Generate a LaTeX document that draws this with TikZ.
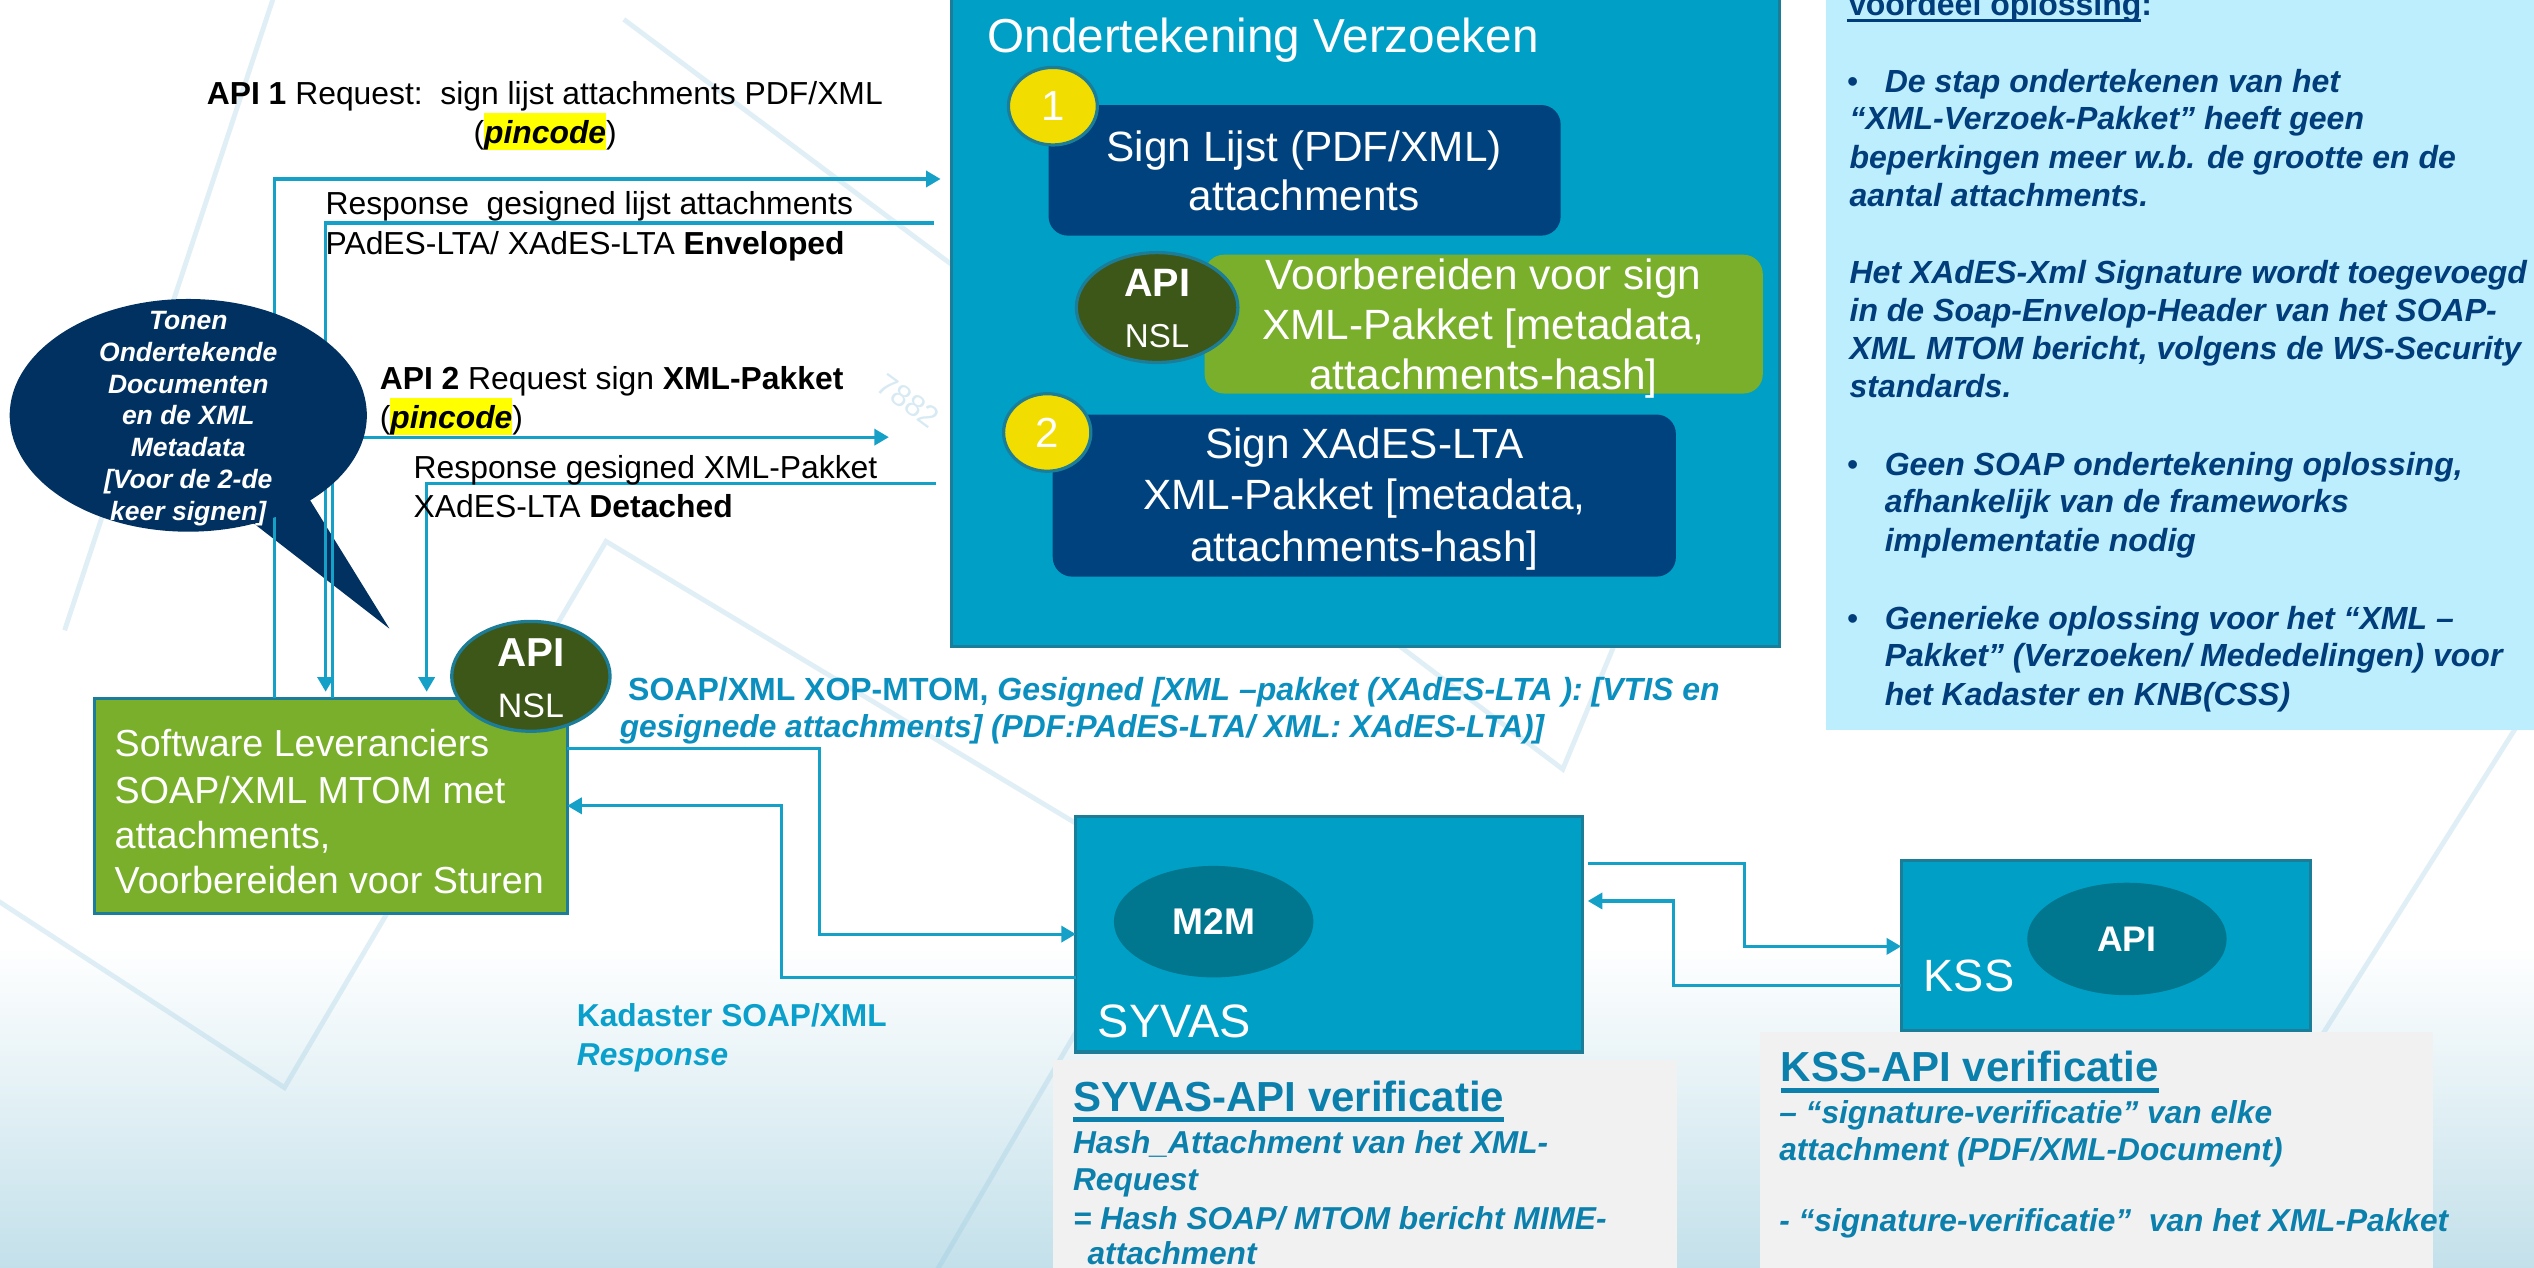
\documentclass[tikz,border=0pt]{standalone}
\usepackage{fontspec}
\setmainfont{Liberation Sans}
\usetikzlibrary{arrows.meta,shapes.geometric}

\definecolor{cTeal}{HTML}{00A0C6}
\definecolor{cTealEdge}{HTML}{1B7D97}
\definecolor{cInner}{HTML}{00768F}
\definecolor{cNavy}{HTML}{00427E}
\definecolor{cYellow}{HTML}{F2DD00}
\definecolor{cOlive}{HTML}{3D5719}
\definecolor{cGreen}{HTML}{79AF2A}
\definecolor{cBubble}{HTML}{003161}
\definecolor{cPanel}{HTML}{BDEEFD}
\definecolor{cPanelText}{HTML}{003D7A}
\definecolor{cLine}{HTML}{15A0C8}
\definecolor{cLabel}{HTML}{0B8FBE}
\definecolor{cKad}{HTML}{0AA0CB}
\definecolor{cVer}{HTML}{0B80AC}
\definecolor{cGray}{HTML}{F1F1F1}
\definecolor{cBgBot}{HTML}{C3E0EA}
\definecolor{cHi}{HTML}{FFFF00}
\definecolor{cFaint}{HTML}{8EC4DD}

\newcommand\fsz[2]{\fontsize{#1}{#2}\selectfont}
\newcommand\hlpin[1]{{\setlength{\fboxsep}{0pt}\colorbox{cHi}{\rule[-4pt]{0pt}{23pt}\textbf{\textit{#1}}}}}

\begin{document}
\begin{tikzpicture}[x=1pt,y=-1pt,
  conn/.style={draw=cLine,line width=1.9pt},
  tip/.style={-{Triangle[length=9pt,width=10pt]}},
  bgline/.style={draw=cFaint,line width=3pt,opacity=0.27},
  txt/.style={inner sep=0pt,outer sep=0pt,anchor=base west},
  ctxt/.style={inner sep=0pt,outer sep=0pt,anchor=base},
  blk/.style={txt,font=\fsz{19.7}{23.6}},
  boxtxt/.style={ctxt,text=white,font=\fsz{26.2}{31}},
  ptx/.style={txt,text=cPanelText,font=\fsz{19.8}{23.6}\bfseries\itshape},
  pbul/.style={txt,text=cPanelText,font=\fsz{19.8}{23.6}},
  vtx/.style={txt,text=cVer,font=\fsz{19.6}{23.6}\bfseries\itshape},
  vhead/.style={txt,text=cVer,font=\fsz{26}{30}\bfseries},
  box/.style={rectangle,anchor=north west,inner sep=0pt,outer sep=0pt},
  rbox/.style={box,rounded corners=12pt},
  oval/.style={ellipse,inner sep=0pt,outer sep=0pt},
  dot/.style={oval,fill=cYellow,draw=cTealEdge,line width=2pt,text=white,font=\fsz{26}{30}},
  nsl/.style={oval,fill=cOlive,draw=cTealEdge,line width=2pt},
  sysbox/.style={box,fill=cTeal,draw=cTealEdge,line width=2pt},
  inner/.style={oval,fill=cInner,text=white}
]
\useasboundingbox (0,0) rectangle (1568,784.6);
\clip (0,0) rectangle (1568,784.6);

% ---------- background ----------
\fill[white] (0,0) rectangle (1568,784.6);
\shade[top color=white,bottom color=cBgBot] (0,585) rectangle (1568,784.6);
\draw[bgline] (-120,480) -- (176,673) -- (375,335) -- (700,530);
\draw[bgline] (172,-10) -- (40,390);
\draw[bgline] (386,12) -- (600,172);
\draw[bgline] (820,365) -- (967,476) -- (1040,300);
\draw[bgline] (1620,350) -- (1330,810);
\draw[bgline] (560,820) -- (700,580);
\node[text=cFaint,opacity=0.35,rotate=-36,font=\fsz{19}{19}] (wm1) at (562,248) {7882};

% ---------- signing block ----------
\node[box,fill=cTeal,draw=cTealEdge,line width=2pt,minimum width=512pt,minimum height=410pt] (ond) at (589,-10) {};
\node[txt,text=white,font=\fsz{29.5}{34}] (ttl) at (611,32.5) {Ondertekening Verzoeken};

\node[rbox,fill=cNavy,minimum width=316.9pt,minimum height=80.8pt] (sl) at (648.8,65) {};
\node[boxtxt] (sl1) at (807,100) {Sign Lijst (PDF/XML)};
\node[boxtxt] (sl2) at (807,130) {attachments};
\node[dot,minimum width=55pt,minimum height=48pt] (c1) at (651.5,65.7) {1};

\node[rbox,fill=cGreen,minimum width=345.4pt,minimum height=85.9pt] (vb) at (745.4,157.6) {};
\node[boxtxt] (vb1) at (918,179) {Voorbereiden voor sign};
\node[boxtxt] (vb2) at (918,210) {XML-Pakket [metadata,};
\node[boxtxt] (vb3) at (918,241) {attachments-hash]};
\node[nsl,minimum width=100pt,minimum height=68pt] (nsl1) at (716,190.3) {};
\node[ctxt,text=white,font=\fsz{24.5}{28}\bfseries] (nsl1a) at (716,183.6) {API};
\node[ctxt,text=white,font=\fsz{20.5}{24}] (nsl1b) at (716,215) {NSL};

\node[rbox,fill=cNavy,minimum width=385.6pt,minimum height=100.3pt] (sx) at (651.4,256.5) {};
\node[boxtxt] (sx1) at (844.2,284) {Sign XAdES-LTA};
\node[boxtxt] (sx2) at (844.2,315) {XML-Pakket [metadata,};
\node[boxtxt] (sx3) at (844.2,347.7) {attachments-hash]};
\node[dot,minimum width=54pt,minimum height=48pt] (c2) at (648,267.6) {2};

% ---------- advantages panel ----------
\node[box,fill=cPanel,minimum width=450pt,minimum height=461.4pt] (panel) at (1129.8,-10) {};
\node[txt,text=cPanelText,font=\fsz{19.8}{23.6}\bfseries] (vo) at (1142.8,9.3) {Voordeel oplossing};
\node[txt,text=cPanelText,font=\fsz{19.8}{23.6}\bfseries] (vocol) at (vo.base east) {:};
\draw[cPanelText,line width=1.6pt] ([yshift=-3.3pt]vo.base west) -- ([yshift=-3.3pt]vo.base east);

\node[pbul] (b1) at (1143,57) {•};
\node[ptx] (p1) at (1166.3,57) {De stap ondertekenen van het};
\node[ptx] (p2) at (1144.5,80.4) {“XML-Verzoek-Pakket” heeft geen};
\node[ptx] (p3) at (1144.5,104.4) {beperkingen meer w.b. de grootte en de};
\node[ptx] (p4) at (1144.5,127.5) {aantal attachments.};
\node[ptx] (p5) at (1144.5,175.5) {Het XAdES-Xml Signature wordt toegevoegd};
\node[ptx] (p6) at (1144.5,199) {in de Soap-Envelop-Header van het SOAP-};
\node[ptx] (p7) at (1144.5,222.6) {XML MTOM bericht, volgens de WS-Security};
\node[ptx] (p8) at (1144.5,246) {standards.};
\node[pbul] (b2) at (1143,294) {•};
\node[ptx] (p9) at (1166.3,294) {Geen SOAP ondertekening oplossing,};
\node[ptx] (p10) at (1166.3,317.3) {afhankelijk van de frameworks};
\node[ptx] (p11) at (1166.3,341.3) {implementatie nodig};
\node[pbul] (b3) at (1143,389.3) {•};
\node[ptx] (p12) at (1166.3,389.3) {Generieke oplossing voor het “XML –};
\node[ptx] (p13) at (1166.3,412.4) {Pakket” (Verzoeken/ Mededelingen) voor};
\node[ptx] (p14) at (1166.3,436.4) {het Kadaster en KNB(CSS)};

% ---------- software supplier ----------
\node[box,fill=cGreen,draw=cTealEdge,line width=1.8pt,minimum width=292.6pt,minimum height=133pt] (sw) at (58.4,432) {};
\node[txt,text=white,font=\fsz{23.3}{28}] (sw1) at (71,468) {Software Leveranciers};
\node[txt,text=white,font=\fsz{23.3}{28}] (sw2) at (71,497) {SOAP/XML MTOM met};
\node[txt,text=white,font=\fsz{23.3}{28}] (sw3) at (71,525) {attachments,};
\node[txt,text=white,font=\fsz{23.3}{28}] (sw4) at (71,552.8) {Voorbereiden voor Sturen};
\node[nsl,minimum width=98pt,minimum height=68pt] (nsl2) at (328.5,418.5) {};
\node[ctxt,text=white,font=\fsz{25}{28}\bfseries] (nsl2a) at (328.5,412.6) {API};
\node[ctxt,text=white,font=\fsz{21}{24}] (nsl2b) at (328.5,443.7) {NSL};

% ---------- SYVAS and KSS ----------
\node[sysbox,minimum width=313.7pt,minimum height=145.9pt] (syvas) at (665.7,505) {};
\node[inner,minimum width=123.5pt,minimum height=69pt,font=\fsz{23}{26}\bfseries] (m2m) at (751,570.3) {M2M};
\node[txt,text=white,font=\fsz{29}{33}] (syvt) at (679.4,642) {SYVAS};

\node[sysbox,minimum width=253.4pt,minimum height=105.2pt] (kss) at (1176.4,532.6) {};
\node[inner,minimum width=123.4pt,minimum height=69.6pt,font=\fsz{22}{26}\bfseries] (kapi) at (1316.1,581) {API};
\node[txt,text=white,font=\fsz{28}{32}] (ksst) at (1190.3,613.7) {KSS};

% ---------- verification notes ----------
\node[box,fill=cGray,minimum width=385.9pt,minimum height=140pt] (sp) at (651.8,656) {};
\node[vhead] (sph) at (664,688) {SYVAS-API verificatie};
\draw[cVer,line width=3pt] ([yshift=-4.7pt]sph.base west) -- ([yshift=-4.7pt]sph.base east);
\node[vtx] (sp1) at (664,713.5) {Hash\_Attachment van het XML-};
\node[vtx] (sp2) at (664,736.5) {Request};
\node[vtx] (sp3) at (664,760.8) {= Hash SOAP/ MTOM bericht MIME-};
\node[vtx] (sp4) at (673,782.6) {attachment};

\node[box,fill=cGray,minimum width=416.6pt,minimum height=160pt] (kp) at (1089,638.4) {};
\node[vhead] (kph) at (1101.9,669.4) {KSS-API verificatie};
\draw[cVer,line width=3pt] ([yshift=-5.5pt]kph.base west) -- ([yshift=-5.5pt]kph.base east);
\node[vtx] (kp1) at (1101,695.1) {– “signature-verificatie” van elke};
\node[vtx] (kp2) at (1101,717.8) {attachment (PDF/XML-Document)};
\node[vtx] (kp3) at (1101,762.2) {- “signature-verificatie”\ \ van het XML-Pakket};

% ---------- bubble tail (under the connectors) ----------
\fill[cBubble] (152,320) -- (241,389) -- (186,300) -- cycle;

% ---------- connectors ----------
\coordinate (r1end) at (582,110.75);
\coordinate (q1start) at (578,138);
\coordinate (r2end) at (550,270.5);
\coordinate (q2start) at (579,299);
\coordinate (s2k) at (982.5,534.5);
\coordinate (k2s) at (982.5,557.5);

\draw[conn,tip] (sw.north -| 170,0) -- (170,110.75) -- (r1end);
\draw[conn,tip,shorten >=4pt] (q1start) -- (201.5,138) -- (sw.north -| 201.5,0);
\draw[conn,tip] (sw.north -| 205.5,0) -- (205.5,270.5) -- (r2end);
\draw[conn,tip,shorten >=4pt] (q2start) -- (264,299) -- (sw.north -| 264,0);

\draw[conn,tip] (sw.east |- 0,463) -- (507,463) -- (507,578) -- (syvas.west |- 0,578);
\draw[conn,tip] (syvas.west |- 0,604.8) -- (483.4,604.8) -- (483.4,498.6) -- (sw.east |- 0,498.6);
\draw[conn,tip] (s2k) -- (1079.2,534.5) -- (1079.2,585.6) -- (kss.west |- 0,585.6);
\draw[conn,tip] (kss.west |- 0,610) -- (1035.8,610) -- (1035.8,557.5) -- (k2s);

% ---------- speech bubble ----------
\node[oval,fill=cBubble,minimum width=221pt,minimum height=144pt] (bub) at (116.5,257) {};
\node[align=center,inner sep=0pt,text=white,font=\fsz{16.4}{19.7}\bfseries\itshape] (bubtxt) at (116.5,259)
  {Tonen\\Ondertekende\\Documenten\\en de XML\\Metadata\\{[Voor de 2-de}\\keer signen]};

% ---------- message labels ----------
\node[blk] (a1) at (128,64.5) {\textbf{API 1} Request:\ \ sign lijst attachments PDF/XML};
\node[blk] (a1b) at (293,89) {(\hlpin{pincode})};
\node[blk] (q1a) at (201.5,132.5) {Response\ \ gesigned lijst attachments};
\node[blk] (q1b) at (201.5,157.5) {PAdES-LTA/ XAdES-LTA \textbf{Enveloped}};
\node[blk] (a2) at (235,241) {\textbf{API 2} Request sign \textbf{XML-Pakket}};
\node[blk] (a2b) at (235,265) {(\hlpin{pincode})};
\node[blk] (q2a) at (256,296) {Response gesigned XML-Pakket};
\node[blk] (q2b) at (256,320) {XAdES-LTA \textbf{Detached}};

\node[txt,text=cLabel,font=\fsz{19.8}{23}\bfseries] (m1) at (388.7,433.5)
  {SOAP/XML XOP-MTOM, \textit{Gesigned [XML –pakket (XAdES-LTA ): [VTIS en}};
\node[txt,text=cLabel,font=\fsz{19.6}{23}\bfseries\itshape] (m2) at (383.5,456.5)
  {gesignede attachments] (PDF:PAdES-LTA/ XML: XAdES-LTA)]};
\node[txt,text=cKad,font=\fsz{19.6}{23}\bfseries] (kad1) at (357,635.3) {Kadaster SOAP/XML};
\node[txt,text=cKad,font=\fsz{19.6}{23}\bfseries\itshape] (kad2) at (357,659) {Response};
\end{tikzpicture}
\end{document}
